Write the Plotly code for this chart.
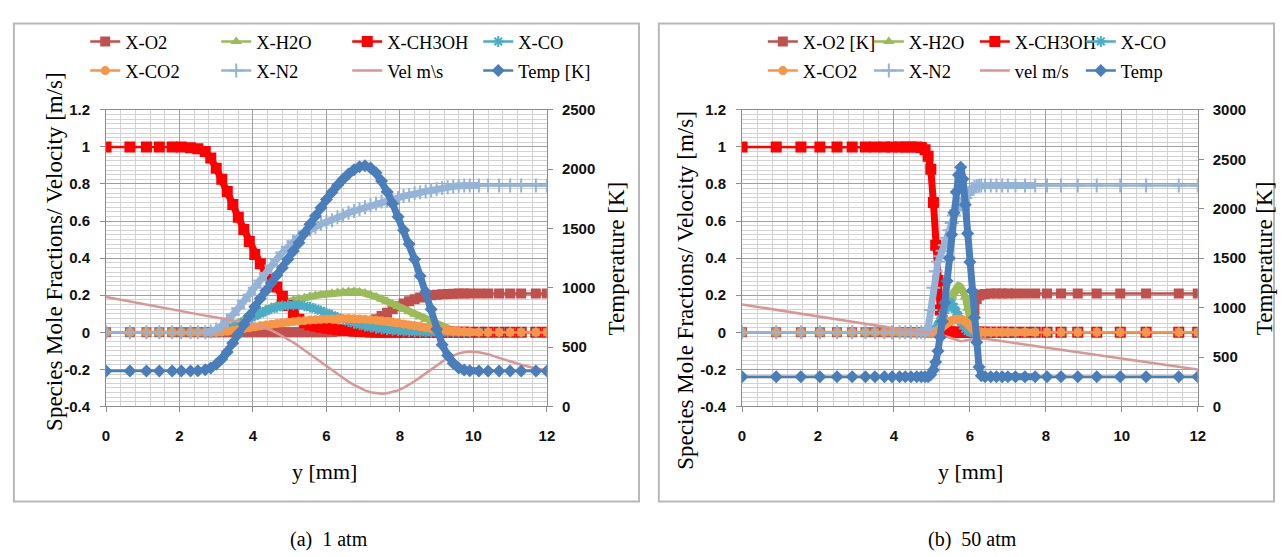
import plotly.graph_objects as go

W, H = 1284, 557

# ---------------- data: panel (a) 1 atm ----------------
y_mm_a = [0, 0.65, 1.1, 1.45, 1.8, 2.05, 2.3, 2.5, 2.7,
          2.85, 3.0, 3.15, 3.3, 3.45, 3.6, 3.75, 3.9,
          4.05, 4.2, 4.35, 4.5, 4.65, 4.8, 4.95, 5.1,
          5.25, 5.4, 5.55, 5.7, 5.85, 6.0, 6.15, 6.3,
          6.45, 6.6, 6.75, 6.9, 7.05, 7.2, 7.35, 7.5,
          7.65, 7.8, 7.95, 8.1, 8.25, 8.4, 8.55, 8.7,
          8.85, 9.0, 9.15, 9.3, 9.45, 9.6, 9.75, 9.9,
          10.15, 10.4, 10.7, 11.0, 11.3, 11.7, 12.0]

x_o2_a = [0, 0, 0, 0, 0, 0, 0, 0, 0,
          0, 0, 0, 0, 0, 0, 0, 0,
          0, 0, 0, 0, 0, 0, 0, 0,
          0, 0, 0, 0, 0, 0, 0.002, 0.005,
          0.008, 0.014, 0.022, 0.032, 0.044, 0.057, 0.071, 0.088,
          0.106, 0.124, 0.14, 0.155, 0.168, 0.179, 0.188, 0.195,
          0.2, 0.203, 0.205, 0.207, 0.208, 0.209, 0.21, 0.21,
          0.21, 0.21, 0.21, 0.21, 0.21, 0.21, 0.21]

x_h2o_a = [0, 0, 0, 0, 0, 0, 0, 0, 0,
           0.002, 0.006, 0.012, 0.022, 0.035, 0.05, 0.066, 0.082,
           0.098, 0.112, 0.125, 0.137, 0.148, 0.158, 0.166, 0.174,
           0.181, 0.187, 0.193, 0.198, 0.203, 0.207, 0.211, 0.215,
           0.218, 0.22, 0.22, 0.218, 0.212, 0.203, 0.192, 0.18,
           0.167, 0.153, 0.139, 0.125, 0.111, 0.097, 0.083, 0.069,
           0.055, 0.042, 0.03, 0.019, 0.01, 0.004, 0.001, 0,
           0, 0, 0, 0, 0, 0, 0]

x_ch3oh_a = [1, 1, 1, 1, 1, 0.999, 0.995, 0.99, 0.975,
             0.94, 0.885, 0.825, 0.76, 0.69, 0.62, 0.555, 0.49,
             0.42, 0.37, 0.32, 0.28, 0.245, 0.195, 0.145, 0.1,
             0.07, 0.052, 0.04, 0.033, 0.027, 0.022, 0.018, 0.014,
             0.011, 0.008, 0.006, 0.004, 0.003, 0.002, 0.001, 0,
             0, 0, 0, 0, 0, 0, 0, 0,
             0, 0, 0, 0, 0, 0, 0, 0,
             0, 0, 0, 0, 0, 0, 0]

x_co_a = [0, 0, 0, 0, 0, 0, 0, 0, 0,
          0, 0.002, 0.006, 0.013, 0.024, 0.038, 0.055, 0.072,
          0.088, 0.102, 0.115, 0.126, 0.135, 0.142, 0.146, 0.148,
          0.147, 0.143, 0.136, 0.127, 0.116, 0.104, 0.092, 0.08,
          0.069, 0.058, 0.049, 0.041, 0.034, 0.028, 0.022, 0.018,
          0.014, 0.011, 0.008, 0.006, 0.004, 0.003, 0.002, 0.001,
          0, 0, 0, 0, 0, 0, 0, 0,
          0, 0, 0, 0, 0, 0, 0]

x_co2_a = [0, 0, 0, 0, 0, 0, 0, 0, 0,
           0, 0.001, 0.003, 0.006, 0.01, 0.015, 0.02, 0.025,
           0.03, 0.035, 0.04, 0.044, 0.048, 0.052, 0.055, 0.058,
           0.061, 0.063, 0.066, 0.068, 0.07, 0.071, 0.072, 0.073,
           0.074, 0.074, 0.073, 0.072, 0.07, 0.068, 0.065, 0.062,
           0.058, 0.054, 0.05, 0.045, 0.04, 0.035, 0.03, 0.025,
           0.02, 0.016, 0.012, 0.009, 0.006, 0.004, 0.003, 0.002,
           0.001, 0, 0, 0, 0, 0, 0]

x_n2_a = [0, 0, 0, 0, 0, 0, 0, 0, 0,
          0.005, 0.015, 0.035, 0.06, 0.095, 0.13, 0.17, 0.2,
          0.24, 0.28, 0.32, 0.36, 0.395, 0.43, 0.46, 0.49,
          0.515, 0.535, 0.555, 0.57, 0.585, 0.595, 0.605, 0.62,
          0.63, 0.645, 0.655, 0.665, 0.675, 0.685, 0.695, 0.705,
          0.71, 0.72, 0.725, 0.735, 0.74, 0.75, 0.755, 0.76,
          0.765, 0.772, 0.778, 0.783, 0.787, 0.79, 0.792, 0.792,
          0.792, 0.792, 0.792, 0.792, 0.792, 0.792, 0.792]

vel_a = [0.19, 0.165, 0.148, 0.135, 0.122, 0.113, 0.104, 0.097, 0.09,
         0.085, 0.08, 0.075, 0.07, 0.066, 0.062, 0.057, 0.051,
         0.044, 0.035, 0.024, 0.011, -0.004, -0.02, -0.037, -0.055,
         -0.075, -0.096, -0.118, -0.14, -0.162, -0.184, -0.205, -0.226,
         -0.246, -0.266, -0.284, -0.3, -0.313, -0.323, -0.329, -0.331,
         -0.329, -0.323, -0.313, -0.299, -0.283, -0.264, -0.243, -0.221,
         -0.199, -0.178, -0.158, -0.14, -0.125, -0.114, -0.107, -0.104,
         -0.107, -0.118, -0.138, -0.158, -0.175, -0.195, -0.205]

temp_a = [300, 300, 300, 300, 300, 300, 300, 302, 310,
          325, 355, 400, 460, 535, 610, 690, 765,
          840, 910, 975, 1040, 1105, 1170, 1240, 1310,
          1380, 1460, 1535, 1605, 1675, 1745, 1805, 1865,
          1915, 1960, 1995, 2020, 2028, 2010, 1970, 1900,
          1810, 1710, 1600, 1485, 1370, 1240, 1100, 965,
          820, 650, 520, 430, 365, 325, 308, 302,
          300, 300, 300, 300, 300, 300, 300]

# ---------------- data: panel (b) 50 atm ----------------
y_mm_b = [0, 0.9, 1.55, 2.05, 2.5, 2.9, 3.25, 3.5,
          3.75, 3.95, 4.15, 4.3, 4.45, 4.6, 4.72, 4.82,
          4.9, 4.97, 5.04, 5.1, 5.16, 5.22, 5.28, 5.34,
          5.4, 5.46, 5.52, 5.58, 5.64, 5.7, 5.76, 5.82,
          5.88, 5.94, 6.0, 6.06, 6.12, 6.18, 6.24, 6.3,
          6.4, 6.55, 6.7, 6.85, 7.0, 7.2, 7.45, 7.72,
          8.03, 8.4, 8.84, 9.34, 9.96, 10.64, 11.5, 12.0]

x_o2_b = [0, 0, 0, 0, 0, 0, 0, 0,
          0, 0, 0, 0, 0, 0, 0, 0,
          0, 0, 0, 0, 0, 0, 0, 0,
          0, 0, 0, 0, 0, 0, 0, 0,
          0, 0, 0.005, 0.04, 0.12, 0.18, 0.198, 0.204,
          0.207, 0.209, 0.21, 0.21, 0.21, 0.21, 0.21, 0.21,
          0.21, 0.21, 0.21, 0.21, 0.21, 0.21, 0.21, 0.21]

x_h2o_b = [0, 0, 0, 0, 0, 0, 0, 0,
           0, 0, 0, 0, 0, 0, 0, 0,
           0, 0, 0.01, 0.025, 0.045, 0.07, 0.095, 0.12,
           0.145, 0.17, 0.195, 0.22, 0.24, 0.25, 0.245, 0.225,
           0.19, 0.13, 0.06, 0.02, 0.005, 0.001, 0, 0,
           0, 0, 0, 0, 0, 0, 0, 0,
           0, 0, 0, 0, 0, 0, 0, 0]

x_ch3oh_b = [1, 1, 1, 1, 1, 1, 1, 1,
             1, 1, 1, 1, 1, 1, 0.997, 0.985,
             0.95, 0.88, 0.7, 0.47, 0.28, 0.12, 0.05, 0.02,
             0.008, 0.003, 0.001, 0, 0, 0, 0, 0,
             0, 0, 0, 0, 0, 0, 0, 0,
             0, 0, 0, 0, 0, 0, 0, 0,
             0, 0, 0, 0, 0, 0, 0, 0]

x_co_b = [0, 0, 0, 0, 0, 0, 0, 0,
          0, 0, 0, 0, 0, 0, 0, 0,
          0, 0, 0.005, 0.015, 0.035, 0.06, 0.09, 0.12,
          0.145, 0.16, 0.155, 0.135, 0.11, 0.085, 0.06, 0.038,
          0.02, 0.008, 0.002, 0, 0, 0, 0, 0,
          0, 0, 0, 0, 0, 0, 0, 0,
          0, 0, 0, 0, 0, 0, 0, 0]

x_co2_b = [0, 0, 0, 0, 0, 0, 0, 0,
           0, 0, 0, 0, 0, 0, 0, 0,
           0, 0, 0, 0.003, 0.01, 0.02, 0.03, 0.04,
           0.05, 0.058, 0.064, 0.068, 0.07, 0.071, 0.07, 0.066,
           0.058, 0.047, 0.034, 0.021, 0.01, 0.004, 0.001, 0,
           0, 0, 0, 0, 0, 0, 0, 0,
           0, 0, 0, 0, 0, 0, 0, 0]

x_n2_b = [0, 0, 0, 0, 0, 0, 0, 0,
          0, 0, 0, 0, 0, 0, 0, 0,
          0.02, 0.12, 0.24, 0.33, 0.38, 0.41, 0.44, 0.47,
          0.51, 0.55, 0.59, 0.63, 0.66, 0.68, 0.695, 0.71,
          0.725, 0.742, 0.76, 0.775, 0.784, 0.789, 0.791, 0.792,
          0.792, 0.792, 0.792, 0.792, 0.792, 0.792, 0.792, 0.792,
          0.792, 0.792, 0.792, 0.792, 0.792, 0.792, 0.792, 0.792]

vel_b = [0.15, 0.122, 0.102, 0.085, 0.07, 0.057, 0.046, 0.038,
         0.03, 0.023, 0.017, 0.013, 0.009, 0.006, 0.003, 0.001,
         0, -0.002, -0.004, -0.006, -0.009, -0.012, -0.016, -0.02,
         -0.025, -0.03, -0.035, -0.04, -0.044, -0.047, -0.048, -0.047,
         -0.044, -0.041, -0.038, -0.036, -0.035, -0.034, -0.034, -0.034,
         -0.035, -0.039, -0.044, -0.048, -0.053, -0.059, -0.066, -0.074,
         -0.083, -0.094, -0.107, -0.122, -0.14, -0.16, -0.185, -0.2]

temp_b = [300, 300, 300, 300, 300, 300, 300, 300,
          300, 300, 300, 300, 300, 300, 300, 300,
          302, 320, 370, 450, 560, 700, 860, 1050,
          1270, 1500, 1740, 1960, 2170, 2340, 2420, 2300,
          2040, 1750, 1460, 1170, 900, 650, 400, 310,
          302, 300, 300, 300, 300, 300, 300, 300,
          300, 300, 300, 300, 300, 300, 300, 300]

# ---------------- labels ----------------
names_a = ["X-O2", "X-H2O", "X-CH3OH", "X-CO", "X-CO2", "X-N2", "Vel m\\s", "Temp [K]"]
names_b = ["X-O2 [K]", "X-H2O", "X-CH3OH", "X-CO", "X-CO2", "X-N2", "vel m/s", "Temp"]
x_ticks = [0, 2, 4, 6, 8, 10, 12]
y_ticks = [-0.4, -0.2, 0, 0.2, 0.4, 0.6, 0.8, 1, 1.2]
y_ticktext = ["-0.4", "-0.2", "0", "0.2", "0.4", "0.6", "0.8", "1", "1.2"]
t_ticks_a = [0, 500, 1000, 1500, 2000, 2500]
t_ticks_b = [0, 500, 1000, 1500, 2000, 2500, 3000]
y_title = "Species Mole Fractions/ Velocity [m/s]"
t_title = "Temperature [K]"
x_title = "y [mm]"
captions = ["(a)  1 atm", "(b)  50 atm"]

# ---------------- styles ----------------
COL = dict(o2="#C0504D", h2o="#9BBB59", ch3oh="#FF0000", co="#4BACC6",
           co2="#F79646", n2="#95B3D7", vel="#D99694", temp="#4A7EBB")
SERIF = "Liberation Serif"
SANS = "Liberation Sans"
# index ranges of the densely meshed zone (markers overlap into a band there)
DENSE_A = (8, 58)
DENSE_B = (13, 48)


def px(x):
    return x / W


def py(y):
    return 1 - y / H


fig = go.Figure()

SPECS = [
    ("o2", "square", 10),
    ("h2o", "triangle-up", 10),
    ("ch3oh", "square", 11),
    ("co", "asterisk-open", 9),
    ("co2", "circle", 9),
    ("n2", "cross-thin-open", 10),
    ("vel", None, 0),
    ("temp", "diamond", 10),
]


def add_panel(xv, series, names, xa, ya, ya2, leg1, leg2, dense):
    i0, i1 = dense
    for i, ((key, sym, size), vals, nm) in enumerate(zip(SPECS, series, names)):
        leg = leg1 if i < 4 else leg2
        yaxis = ya2 if key == "temp" else ya
        if sym is None:
            fig.add_trace(go.Scatter(x=xv, y=vals, name=nm, mode="lines",
                                     line=dict(color=COL[key], width=2.5),
                                     xaxis=xa, yaxis=yaxis, legend=leg))
            continue
        # thick band where the mesh is dense
        fig.add_trace(go.Scatter(x=xv[i0:i1], y=vals[i0:i1], mode="lines",
                                 line=dict(color=COL[key], width=7),
                                 xaxis=xa, yaxis=yaxis, showlegend=False,
                                 hoverinfo="skip"))
        mk = dict(symbol=sym, size=size, color=COL[key])
        if "open" in sym:
            mk["line"] = dict(width=2)
        fig.add_trace(go.Scatter(x=xv, y=vals, name=nm, mode="lines+markers",
                                 line=dict(color=COL[key], width=2.5),
                                 marker=mk, xaxis=xa, yaxis=yaxis, legend=leg))


add_panel(y_mm_a, [x_o2_a, x_h2o_a, x_ch3oh_a, x_co_a, x_co2_a, x_n2_a, vel_a, temp_a],
          names_a, "x", "y", "y2", "legend", "legend2", DENSE_A)
add_panel(y_mm_b, [x_o2_b, x_h2o_b, x_ch3oh_b, x_co_b, x_co2_b, x_n2_b, vel_b, temp_b],
          names_b, "x2", "y3", "y4", "legend3", "legend4", DENSE_B)

AXC = "#8c8c8c"
GRID = "#a0a0a0"
MINOR = "#d2d2d2"
tickfont = dict(family=SANS, size=15, color="#111111", weight=700)
ydom = [py(410), py(104)]


def xaxis(dom, anchor):
    return dict(domain=dom, anchor=anchor, range=[0, 12], tickmode="array",
                tickvals=x_ticks, ticktext=[str(v) for v in x_ticks],
                showgrid=True, gridcolor=GRID, gridwidth=1,
                minor=dict(tickmode="linear", tick0=0, dtick=0.4, showgrid=True,
                           gridcolor=MINOR, gridwidth=1, ticks=""),
                ticks="outside", ticklen=5, tickcolor=AXC, showline=True,
                linecolor=AXC, linewidth=1, mirror=True, zeroline=False,
                tickfont=tickfont, ticklabelstandoff=11, fixedrange=True)


def yaxis(anchor):
    return dict(domain=ydom, anchor=anchor, range=[-0.4, 1.2], tickmode="array",
                tickvals=y_ticks, ticktext=y_ticktext,
                showgrid=True, gridcolor=GRID, gridwidth=1,
                minor=dict(tickmode="linear", tick0=0, dtick=0.025, showgrid=True,
                           gridcolor=MINOR, gridwidth=1, ticks=""),
                ticks="outside", ticklen=5, tickcolor=AXC, showline=True,
                linecolor=AXC, linewidth=1, mirror=True, zeroline=False,
                tickfont=tickfont, ticklabelstandoff=7)


def taxis(overlay, anchor, rng, tv):
    return dict(overlaying=overlay, side="right", anchor=anchor, range=rng,
                tickmode="array", tickvals=tv, ticktext=[str(v) for v in tv],
                showgrid=False, zeroline=False, ticks="outside", ticklen=5,
                tickcolor=AXC, showline=True, linecolor=AXC, linewidth=1,
                tickfont=tickfont, ticklabelstandoff=6)


def legend(xp, yp, ew):
    return dict(orientation="h", x=px(xp), xanchor="left", y=py(yp), yanchor="middle",
                entrywidth=ew, entrywidthmode="pixels", traceorder="normal",
                font=dict(family=SERIF, size=18.5, color="black"),
                bgcolor="rgba(0,0,0,0)", borderwidth=0, itemwidth=30)


fig.update_layout(
    width=W, height=H, margin=dict(l=0, r=0, t=0, b=0),
    paper_bgcolor="white", plot_bgcolor="white",
    font=dict(family=SERIF),
    xaxis=xaxis([px(103), px(548)], "y"),
    yaxis=yaxis("x"),
    yaxis2=taxis("y", "x", [0, 2500], t_ticks_a),
    xaxis2=xaxis([px(745), px(1205)], "y3"),
    yaxis3=yaxis("x2"),
    yaxis4=taxis("y3", "x2", [0, 3000], t_ticks_b),
    legend=legend(82, 34, 86),
    legend2=legend(82, 64, 86),
    legend3=legend(766, 34, 61),
    legend4=legend(766, 64, 61),
    showlegend=True,
)

# panel frames
for x0, x1 in [(10, 641), (661, 1282)]:
    fig.add_shape(type="rect", xref="paper", yref="paper",
                  x0=px(x0), x1=px(x1), y0=py(508), y1=py(15),
                  line=dict(color="#b8b8b8", width=2), fillcolor="rgba(0,0,0,0)",
                  layer="below")

ann = []
for xc, yc in [(51, 250), (688, 290)]:
    ann.append(dict(text=y_title, x=px(xc), y=py(yc), textangle=-90,
                    font=dict(family=SERIF, size=23, color="black")))
for xc in [618, 1272]:
    ann.append(dict(text=t_title, x=px(xc), y=py(257), textangle=-90,
                    font=dict(family=SERIF, size=23, color="black")))
for xc in [324, 976]:
    ann.append(dict(text=x_title, x=px(xc), y=py(477),
                    font=dict(family=SERIF, size=22, color="black")))
for xc, cap in zip([328, 978], captions):
    ann.append(dict(text=cap, x=px(xc), y=py(547),
                    font=dict(family=SERIF, size=20, color="black")))
for a in ann:
    a.update(xref="paper", yref="paper", xanchor="center", yanchor="middle",
             showarrow=False)
fig.update_layout(annotations=ann)

fig.write_html("out.html")
